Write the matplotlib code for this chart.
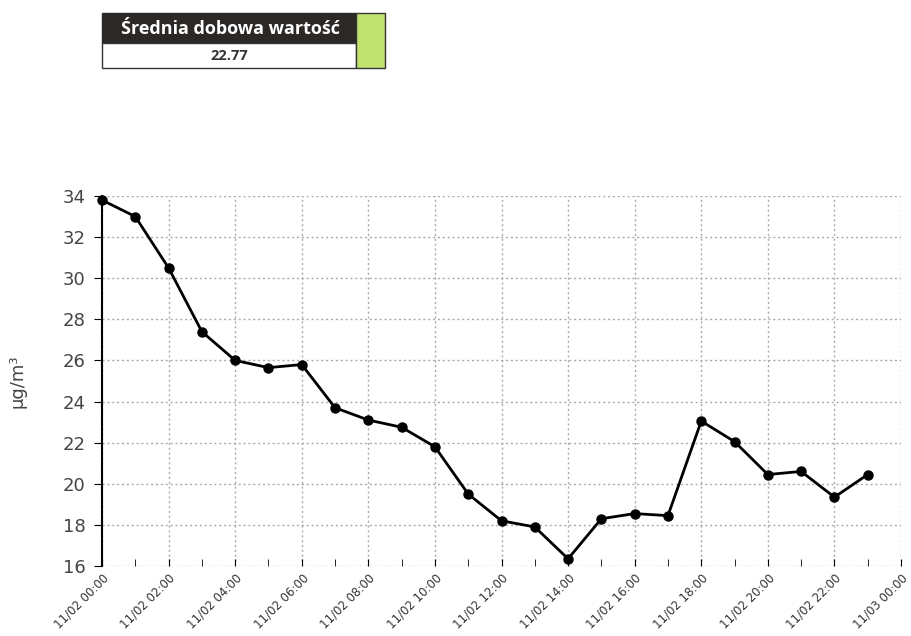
import matplotlib
matplotlib.use("Agg")
import matplotlib.pyplot as plt
from matplotlib.patches import Rectangle
from matplotlib.ticker import MultipleLocator

plt.rcParams["font.family"] = ["DejaVu Sans"]

hours = list(range(24))
values = [33.8, 33.0, 30.5, 27.4, 26.0, 25.65, 25.8, 23.7, 23.1, 22.75, 21.8, 19.5,
          18.2, 17.9, 16.35, 18.3, 18.55, 18.45, 23.05, 22.05, 20.45, 20.6, 19.35, 20.45]
tick_hours = list(range(0, 25, 2))
tick_labels = ["11/02 00:00", "11/02 02:00", "11/02 04:00", "11/02 06:00", "11/02 08:00",
               "11/02 10:00", "11/02 12:00", "11/02 14:00", "11/02 16:00", "11/02 18:00",
               "11/02 20:00", "11/02 22:00", "11/03 00:00"]
yticks = list(range(16, 35, 2))
title_text = "Średnia dobowa wartość"
mean_text = "22.77"
y_label = "µg/m³"

W, H = 911, 636
fig = plt.figure(figsize=(W / 100, H / 100), dpi=100)
ax = fig.add_axes([102 / W, 1 - 566 / H, (901 - 102) / W, (566 - 196) / H])

ax.plot(hours, values, color="black", lw=2, marker="o", ms=6.5, zorder=3, clip_on=False)
ax.set_xlim(0, 24)
ax.set_ylim(16, 34)
ax.set_xticks(tick_hours)
ax.set_xticklabels(tick_labels, rotation=45, ha="right", rotation_mode="anchor",
                   fontsize=8.5, color="#333333")
ax.xaxis.set_minor_locator(MultipleLocator(1))
ax.set_yticks(yticks)
ax.tick_params(axis="y", labelsize=13, labelcolor="#444444", length=6, direction="out", pad=6)
ax.tick_params(axis="x", which="both", direction="in", length=5, pad=4)
ax.grid(True, which="major", linestyle=(0, (1.5, 2)), color="#aaaaaa", lw=1)
for s in ["top", "right"]:
    ax.spines[s].set_visible(False)
ax.spines["left"].set_linewidth(1.5)
ax.spines["bottom"].set_visible(False)
ax.set_ylabel(y_label, fontsize=13, color="#444444", labelpad=26)

# summary box
def px(x, y):
    return x / W, 1 - y / H

x0, x1, xg = 102, 356, 385
yt, ym, yb = 13, 43, 68
fig.patches.append(Rectangle(px(x0, ym), (x1 - x0) / W, (ym - yt) / H, transform=fig.transFigure,
                             facecolor="#2b2826", edgecolor="#2b2826", lw=1))
fig.patches.append(Rectangle(px(x0, yb), (x1 - x0) / W, (yb - ym) / H, transform=fig.transFigure,
                             facecolor="white", edgecolor="#333333", lw=1))
fig.patches.append(Rectangle(px(x1, yb), (xg - x1) / W, (yb - yt) / H, transform=fig.transFigure,
                             facecolor="#c2e270", edgecolor="#333333", lw=1))
fig.text(*px((x0 + x1) / 2 + 1, (yt + ym) / 2 + 1), title_text, color="white", fontsize=13,
         fontweight="bold", family="Open Sans", ha="center", va="center")
fig.text(*px((x0 + x1) / 2, (ym + yb) / 2 + 1), mean_text, color="#333333", fontsize=10.5,
         fontweight="bold", family="Open Sans", ha="center", va="center")

fig.savefig("out.png", dpi=100)
